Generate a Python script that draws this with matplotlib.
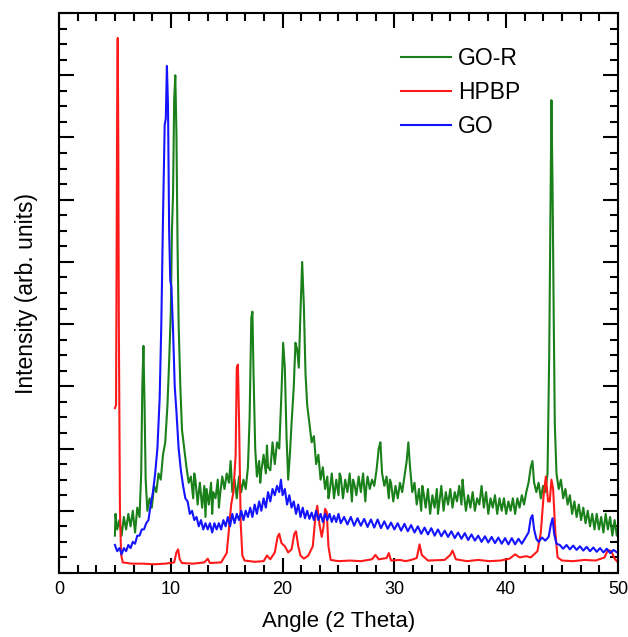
import matplotlib
matplotlib.use("Agg")
import matplotlib.pyplot as plt
from matplotlib.ticker import MultipleLocator, NullFormatter

plt.rcParams['font.family'] = ['Liberation Sans', 'DejaVu Sans']

# GO-R (green)
gor_x = [5.0, 5.05, 5.2, 5.4, 5.6, 5.8, 6.0, 6.2, 6.4, 6.6, 6.8, 7.0, 7.2, 7.35, 7.45, 7.55, 7.65, 7.75, 7.9,
         8.1, 8.3, 8.5, 8.7, 8.9, 9.1, 9.3, 9.5, 9.7, 9.85, 10.0, 10.1, 10.2, 10.3, 10.4, 10.5, 10.6, 10.7, 10.85,
         11.0, 11.2, 11.4, 11.6, 11.8, 12.0, 12.1, 12.2, 12.4, 12.5, 12.6, 12.8, 13.0, 13.1, 13.2, 13.4, 13.6, 13.7,
         13.8, 14.0, 14.2, 14.3, 14.4, 14.6, 14.8, 15.0, 15.2, 15.35, 15.5, 15.7, 15.9, 16.1, 16.3, 16.5, 16.7,
         16.9, 17.05, 17.2, 17.3, 17.4, 17.55, 17.7, 17.9, 18.0, 18.1, 18.3, 18.5, 18.6, 18.7, 18.9, 19.1, 19.3,
         19.5, 19.7, 19.9, 20.05, 20.2, 20.35, 20.5, 20.65, 20.8, 21.0, 21.15, 21.3, 21.45, 21.6, 21.75, 21.9,
         22.05, 22.2, 22.4, 22.6, 22.8, 23.0, 23.2, 23.4, 23.6, 23.8, 24.0, 24.1, 24.2, 24.4, 24.6, 24.8, 25.0,
         25.1, 25.2, 25.4, 25.6, 25.8, 26.0, 26.2, 26.3, 26.4, 26.6, 26.8, 27.0, 27.2, 27.4, 27.5, 27.6, 27.8,
         28.0, 28.2, 28.4, 28.6, 28.75, 28.9, 29.1, 29.3, 29.5, 29.6, 29.7, 29.9, 30.1, 30.3, 30.5, 30.7, 30.9,
         31.1, 31.25, 31.4, 31.6, 31.8, 32.0, 32.2, 32.4, 32.5, 32.6, 32.8, 33.0, 33.2, 33.4, 33.6, 33.8, 33.9,
         34.0, 34.2, 34.4, 34.6, 34.8, 35.0, 35.2, 35.4, 35.6, 35.8, 36.0, 36.1, 36.2, 36.4, 36.6, 36.8, 37.0,
         37.2, 37.4, 37.6, 37.8, 38.0, 38.2, 38.4, 38.6, 38.8, 39.0, 39.2, 39.4, 39.6, 39.8, 40.0, 40.2, 40.4,
         40.6, 40.8, 41.0, 41.2, 41.4, 41.6, 41.8, 42.0, 42.2, 42.35, 42.5, 42.7, 42.9, 43.1, 43.3, 43.5, 43.7,
         43.85, 43.95, 44.05, 44.15, 44.25, 44.35, 44.5, 44.7, 44.9, 45.1, 45.3, 45.5, 45.7, 45.9, 46.1, 46.3,
         46.5, 46.7, 46.9, 47.1, 47.3, 47.5, 47.7, 47.9, 48.1, 48.3, 48.5, 48.7, 48.9, 49.1, 49.3, 49.5, 49.7,
         49.9, 50.0]
gor_y = [0.6, 0.95, 0.7, 0.85, 0.6, 0.9, 0.7, 0.95, 0.75, 1.0, 0.65, 1.05, 0.9, 1.6, 3.0, 3.65, 2.7, 1.5, 1.0,
         1.2, 1.05, 1.4, 1.3, 1.6, 1.5, 1.9, 2.1, 2.7, 3.4, 4.2, 5.5, 6.1, 7.6, 8.0, 7.1, 5.3, 4.0, 3.0,
         2.3, 2.0, 1.7, 1.45, 1.55, 1.2, 1.6, 1.5, 1.1, 1.3, 1.45, 1.05, 1.4, 0.9, 1.35, 1.1, 1.45, 0.95,
         1.3, 1.2, 1.5, 1.05, 1.25, 1.55, 1.35, 1.6, 1.45, 1.8, 1.3, 1.5, 1.2, 1.55, 1.3, 1.5, 1.35,
         1.7, 2.5, 4.1, 4.2, 3.2, 2.0, 1.55, 1.8, 1.45, 1.65, 1.9, 1.6, 2.05, 1.7, 1.65, 2.1, 1.75,
         2.1, 2.0, 2.9, 3.7, 3.3, 2.2, 1.5, 1.9, 2.4, 3.0, 3.7, 3.6, 3.3, 4.2, 5.0, 4.3,
         3.2, 2.7, 2.4, 2.1, 2.2, 1.75, 1.9, 1.5, 1.7, 1.35, 1.55, 1.2, 1.3, 1.6, 1.2, 1.5, 1.25,
         1.6, 1.55, 1.2, 1.5, 1.3, 1.6, 1.15, 1.5, 1.45, 1.25, 1.55, 1.3, 1.6, 1.15, 1.4, 1.55, 1.35,
         1.5, 1.4, 1.65, 2.0, 2.1, 1.6, 1.4, 1.55, 1.2, 1.5, 1.45, 1.15, 1.4, 1.2, 1.45, 1.3, 1.55,
         1.8, 2.1, 1.7, 1.3, 1.45, 1.1, 1.35, 1.0, 1.4, 1.3, 1.05, 1.35, 0.95, 1.25, 1.05, 1.35, 0.95,
         1.1, 1.4, 1.0, 1.3, 1.1, 1.35, 1.05, 1.3, 1.15, 1.4, 1.1, 1.5, 1.3, 1.0, 1.25, 1.05, 1.3,
         1.0, 1.2, 1.1, 1.4, 1.05, 1.3, 0.95, 1.2, 1.05, 1.25, 0.95, 1.2, 1.0, 1.2, 0.95, 1.15, 1.0,
         1.2, 0.95, 1.2, 1.05, 1.25, 1.1, 1.3, 1.45, 1.7, 1.8, 1.45, 1.3, 1.45, 1.2, 1.4, 1.3, 1.6,
         3.5, 5.5, 7.6, 6.2, 4.2, 2.4, 1.6, 1.35, 1.5, 1.2, 1.35, 1.1, 1.25, 0.95, 1.15, 0.9,
         1.1, 0.85, 1.05, 0.8, 1.0, 0.75, 0.95, 0.7, 0.95, 0.7, 0.9, 0.65, 0.95, 0.7, 0.9, 0.6, 0.85,
         0.6, 0.7]

# HPBP (red)
hpbp_x = [5.0, 5.1, 5.15, 5.2, 5.25, 5.3, 5.35, 5.45, 5.55, 5.7, 6.5, 7.5, 8.5, 9.5, 10.3, 10.5, 10.65, 10.8,
          11.0, 12.0, 13.0, 13.3, 13.5, 14.5, 15.0, 15.2, 15.4, 15.6, 15.8, 15.9, 16.0, 16.1, 16.25, 16.4,
          16.6, 17.5, 18.3, 18.6, 18.9, 19.3, 19.55, 19.7, 19.9, 20.2, 20.5, 20.8, 21.05, 21.2, 21.4, 21.6,
          21.9, 22.3, 22.7, 22.95, 23.1, 23.3, 23.5, 23.65, 23.8, 23.95, 24.1, 24.3, 25.0, 26.0, 27.0, 28.0,
          28.3, 28.6, 29.3, 29.5, 29.7, 30.5, 31.0, 31.5, 32.0, 32.25, 32.45, 33.0, 34.5, 35.0, 35.2, 35.5,
          36.5, 37.5, 38.5, 39.5, 40.3, 40.8, 41.2, 41.8, 42.2, 42.8, 43.1, 43.35, 43.55, 43.75, 43.9, 44.05,
          44.2, 44.4, 44.6, 45.0, 46.0, 47.0, 48.0, 48.8, 49.1, 49.4, 49.7, 50.0]
hpbp_y = [2.65, 2.7, 5.0, 7.5, 8.6, 7.0, 4.0, 1.0, 0.3, 0.17, 0.15, 0.15, 0.14, 0.15, 0.17, 0.33, 0.38, 0.22,
          0.16, 0.15, 0.17, 0.23, 0.16, 0.17, 0.32, 0.7, 1.1, 1.3, 1.9, 3.3, 3.35, 2.5, 0.8, 0.28,
          0.2, 0.18, 0.19, 0.28, 0.22, 0.33, 0.58, 0.63, 0.48, 0.43, 0.33, 0.38, 0.63, 0.67, 0.43, 0.28,
          0.23, 0.28, 0.43, 0.93, 1.08, 0.78, 0.58, 0.73, 1.03, 0.98, 0.43, 0.21, 0.19, 0.2, 0.19, 0.22,
          0.29, 0.22, 0.24, 0.32, 0.2, 0.21, 0.19, 0.21, 0.24, 0.46, 0.29, 0.2, 0.21, 0.29, 0.36, 0.22,
          0.19, 0.21, 0.19, 0.2, 0.23, 0.3, 0.25, 0.27, 0.25, 0.35, 0.65, 1.25, 1.55, 1.15, 1.15, 1.5,
          1.35, 0.65, 0.25, 0.2, 0.19, 0.21, 0.2, 0.25, 0.37, 0.35, 0.23, 0.17]

# GO (blue)
go_x = [5.0, 5.2, 5.4, 5.6, 5.8, 6.0, 6.2, 6.4, 6.6, 6.8, 7.0, 7.2, 7.4, 7.6, 7.8, 8.0, 8.2, 8.4, 8.6, 8.8,
        9.0, 9.15, 9.3, 9.45, 9.55, 9.65, 9.75, 9.85, 9.95, 10.05, 10.2, 10.35, 10.5, 10.7, 10.9, 11.1, 11.3,
        11.5, 11.7, 11.9, 12.1, 12.3, 12.5, 12.7, 12.9, 13.1, 13.3, 13.5, 13.7, 13.9, 14.1, 14.3, 14.5, 14.7,
        14.9, 15.1, 15.3, 15.5, 15.7, 15.9, 16.1, 16.3, 16.5, 16.7, 16.9, 17.1, 17.3, 17.5, 17.7, 17.9, 18.1,
        18.3, 18.5, 18.7, 18.9, 19.1, 19.3, 19.5, 19.7, 19.85, 20.0, 20.2, 20.4, 20.6, 20.8, 21.0, 21.2, 21.4,
        21.6, 21.8, 22.0, 22.2, 22.4, 22.6, 22.8, 23.0, 23.2, 23.4, 23.6, 23.8, 24.0, 24.2, 24.4, 24.6, 24.8,
        25.0, 25.2, 25.5, 25.8, 26.1, 26.4, 26.7, 27.0, 27.3, 27.6, 27.9, 28.2, 28.5, 28.8, 29.1, 29.4, 29.7,
        30.0, 30.3, 30.6, 30.9, 31.2, 31.5, 31.8, 32.1, 32.4, 32.7, 33.0, 33.3, 33.6, 33.9, 34.2, 34.5, 34.8,
        35.1, 35.4, 35.7, 36.0, 36.3, 36.6, 36.9, 37.2, 37.5, 37.8, 38.1, 38.4, 38.7, 39.0, 39.3, 39.6, 39.9,
        40.2, 40.5, 40.8, 41.1, 41.4, 41.7, 42.0, 42.2, 42.35, 42.5, 42.7, 42.9, 43.2, 43.5, 43.8, 44.0,
        44.15, 44.3, 44.5, 44.8, 45.1, 45.4, 45.7, 46.0, 46.3, 46.6, 46.9, 47.2, 47.5, 47.8, 48.1, 48.4,
        48.7, 49.0, 49.3, 49.6, 50.0]
go_y = [0.45, 0.35, 0.4, 0.3, 0.4, 0.35, 0.45, 0.4, 0.5, 0.47, 0.6, 0.6, 0.7, 0.7, 0.8, 0.85, 1.1, 1.3, 1.6, 2.0,
        2.8, 4.0, 5.7, 7.2, 7.3, 8.15, 7.5, 5.5, 4.7, 4.6, 3.9, 3.0, 2.6, 2.0, 1.65, 1.4, 1.2,
        1.15, 0.95, 1.0, 0.85, 0.9, 0.75, 0.85, 0.7, 0.8, 0.7, 0.8, 0.65, 0.8, 0.7, 0.8, 0.7, 0.85,
        0.75, 0.9, 0.75, 0.95, 0.8, 0.95, 0.85, 1.0, 0.85, 1.0, 0.9, 1.05, 0.9, 1.1, 0.95, 1.15, 1.0,
        1.2, 1.05, 1.3, 1.15, 1.35, 1.25, 1.4, 1.3, 1.5, 1.25, 1.35, 1.1, 1.25, 1.05, 1.15, 0.95, 1.1,
        0.9, 1.05, 0.88, 1.0, 0.87, 0.97, 0.85, 1.0, 0.85, 0.95, 0.82, 0.95, 0.85, 0.95, 0.82, 0.92, 0.82,
        0.95, 0.8, 0.9, 0.78, 0.9, 0.76, 0.88, 0.76, 0.87, 0.74, 0.86, 0.73, 0.86, 0.72, 0.83, 0.71, 0.81,
        0.7, 0.8, 0.68, 0.79, 0.67, 0.77, 0.65, 0.75, 0.63, 0.73, 0.62, 0.72, 0.6, 0.7, 0.59, 0.68, 0.58,
        0.67, 0.56, 0.65, 0.55, 0.64, 0.53, 0.62, 0.52, 0.6, 0.5, 0.59, 0.49, 0.58, 0.48, 0.57, 0.47, 0.56,
        0.46, 0.56, 0.46, 0.55, 0.47, 0.56, 0.65, 0.88, 0.93, 0.7, 0.55, 0.5, 0.57, 0.52, 0.58, 0.78,
        0.88, 0.62, 0.47, 0.45, 0.39, 0.45, 0.38, 0.44, 0.37, 0.43, 0.36, 0.42, 0.35, 0.41, 0.34, 0.4,
        0.33, 0.39, 0.32, 0.37, 0.32]

fig = plt.figure(figsize=(6.28, 6.37), dpi=100)
ax = fig.add_axes([0.094, 0.1005, 0.89, 0.879])

ax.plot(gor_x, gor_y, color="#1a801a", lw=1.5, label="GO-R")
ax.plot(hpbp_x, hpbp_y, color="#ff1a1a", lw=1.5, label="HPBP")
ax.plot(go_x, go_y, color="#1414ff", lw=1.5, label="GO")

ax.set_xlim(0, 50)
ax.set_ylim(0, 9)
ax.xaxis.set_major_locator(MultipleLocator(10))
ax.xaxis.set_minor_locator(MultipleLocator(10 / 6))
ax.yaxis.set_major_locator(MultipleLocator(1))
ax.yaxis.set_minor_locator(MultipleLocator(0.25))
ax.yaxis.set_major_formatter(NullFormatter())

ax.tick_params(which="both", direction="in", top=True, right=True, width=1.5, labelsize=13)
ax.tick_params(which="major", length=11, pad=6)
ax.tick_params(which="minor", length=6)
for s in ax.spines.values():
    s.set_linewidth(1.5)

ax.set_xlabel("Angle (2 Theta)", fontsize=16, labelpad=9)
ax.set_ylabel("Intensity (arb. units)", fontsize=16.5, labelpad=9)

ax.legend(loc="upper left", bbox_to_anchor=(0.575, 0.977), frameon=False, fontsize=16.5,
          handlelength=2.2, handletextpad=0.3, labelspacing=0.5)

plt.savefig("out.png", dpi=100)
